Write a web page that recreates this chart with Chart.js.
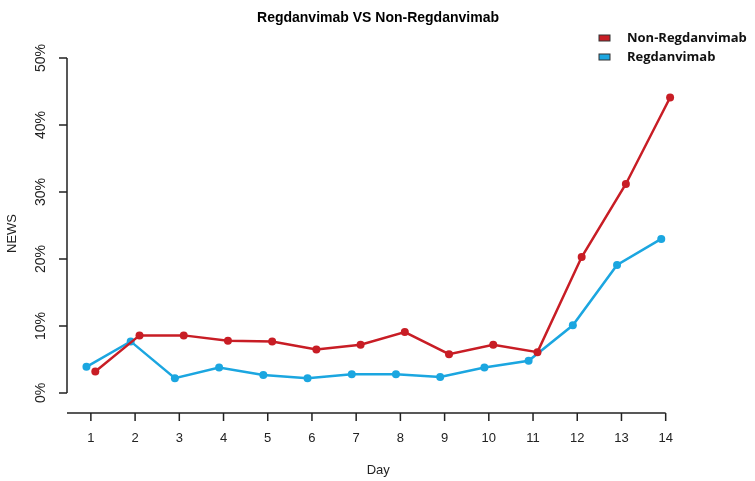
<!DOCTYPE html>
<html>
<head>
<meta charset="utf-8">
<script src="https://cdn.jsdelivr.net/npm/chart.js@4/dist/chart.umd.min.js"></script>
<style>
  html, body { margin: 0; padding: 0; background: #fff; }
  #wrap { width: 755px; height: 481px; }
</style>
</head>
<body>
<div id="wrap"><canvas id="chart" width="755" height="481"></canvas></div>
<script>
// chart data
const days = [1, 2, 3, 4, 5, 6, 7, 8, 9, 10, 11, 12, 13, 14];
const nonRegdanvimab = [3.2, 8.6, 8.6, 7.8, 7.7, 6.5, 7.2, 9.1, 5.8, 7.2, 6.1, 20.3, 31.2, 44.1];
const regdanvimab = [3.9, 7.7, 2.2, 3.8, 2.7, 2.2, 2.8, 2.8, 2.4, 3.8, 4.8, 10.1, 19.1, 23.0];
const yTicks = [0, 10, 20, 30, 40, 50];
const dodge = 0.1; // series are shifted a little sideways, like in the original

const RED = '#c81d25';
const BLUE = '#1ba6e0';

function toPoints(values, shift) {
    return values.map((v, i) => ({ x: days[i] + shift, y: v }));
}

// draws R-style detached axes, tick labels, title and legend
const baseAxes = {
    id: 'baseAxes',
    afterDraw(chart) {
        const ctx = chart.ctx;
        const xs = chart.scales.x;
        const ys = chart.scales.y;
        const xAxisY = ys.bottom + 20;
        ctx.save();
        ctx.strokeStyle = '#222';
        ctx.fillStyle = '#222';
        ctx.lineWidth = 1.5;

        // y axis
        ctx.beginPath();
        ctx.moveTo(xs.left, ys.getPixelForValue(yTicks[0]));
        ctx.lineTo(xs.left, ys.getPixelForValue(yTicks[yTicks.length - 1]));
        yTicks.forEach(t => {
            const py = ys.getPixelForValue(t);
            ctx.moveTo(xs.left, py);
            ctx.lineTo(xs.left - 8, py);
        });
        ctx.stroke();

        ctx.font = '14px "Liberation Sans", Arial, sans-serif';
        ctx.textAlign = 'center';
        ctx.textBaseline = 'middle';
        yTicks.forEach(t => {
            const py = ys.getPixelForValue(t);
            ctx.save();
            ctx.translate(xs.left - 26, py);
            ctx.rotate(-Math.PI / 2);
            ctx.fillText(t + '%', 0, 0);
            ctx.restore();
        });

        // x axis
        ctx.beginPath();
        ctx.moveTo(xs.left, xAxisY);
        ctx.lineTo(xs.getPixelForValue(days[days.length - 1]), xAxisY);
        days.forEach(d => {
            const px = xs.getPixelForValue(d);
            ctx.moveTo(px, xAxisY);
            ctx.lineTo(px, xAxisY + 8);
        });
        ctx.stroke();

        ctx.font = '13px "Liberation Sans", Arial, sans-serif';
        days.forEach(d => {
            ctx.fillText(String(d), xs.getPixelForValue(d), xAxisY + 25);
        });

        // axis titles
        ctx.font = '13px "Liberation Sans", Arial, sans-serif';
        ctx.fillText('Day', (xs.getPixelForValue(1) + xs.getPixelForValue(14)) / 2, 470);
        ctx.save();
        ctx.translate(12, (ys.top + ys.bottom) / 2 + 8);
        ctx.rotate(-Math.PI / 2);
        ctx.fillText('NEWS', 0, 0);
        ctx.restore();

        // title
        ctx.fillStyle = '#000';
        ctx.font = 'bold 14px "Liberation Sans", Arial, sans-serif';
        ctx.fillText('Regdanvimab VS Non-Regdanvimab', 378, 18);

        // legend
        const items = [['Non-Regdanvimab', RED], ['Regdanvimab', BLUE]];
        ctx.textAlign = 'left';
        ctx.font = 'bold 13px "Open Sans", "Liberation Sans", sans-serif';
        items.forEach((it, i) => {
            const ly = 38 + i * 19;
            ctx.fillStyle = it[1];
            ctx.strokeStyle = '#333';
            ctx.lineWidth = 1;
            ctx.fillRect(599, ly - 3, 11, 6);
            ctx.strokeRect(599, ly - 3, 11, 6);
            ctx.fillStyle = '#111';
            ctx.fillText(it[0], 627, ly);
        });
        ctx.restore();
    }
};

const config = {
    type: 'line',
    data: {
        datasets: [
            {
                label: 'Non-Regdanvimab',
                data: toPoints(nonRegdanvimab, dodge),
                borderColor: RED,
                backgroundColor: RED,
                borderWidth: 2.5,
                pointRadius: 4,
                pointBorderWidth: 0,
                tension: 0
            },
            {
                label: 'Regdanvimab',
                data: toPoints(regdanvimab, -dodge),
                borderColor: BLUE,
                backgroundColor: BLUE,
                borderWidth: 2.5,
                pointRadius: 4,
                pointBorderWidth: 0,
                tension: 0
            }
        ]
    },
    options: {
        responsive: false,
        animation: false,
        layout: { padding: { left: 67, right: 65, top: 58, bottom: 88 } },
        scales: {
            x: { type: 'linear', min: 0.46, max: 14.55, display: false },
            y: { type: 'linear', min: 0, max: 50, display: false }
        },
        plugins: {
            legend: { display: false },
            title: { display: false },
            tooltip: { enabled: false }
        }
    },
    plugins: [baseAxes]
};

new Chart(document.getElementById('chart'), config);
</script>
</body>
</html>
